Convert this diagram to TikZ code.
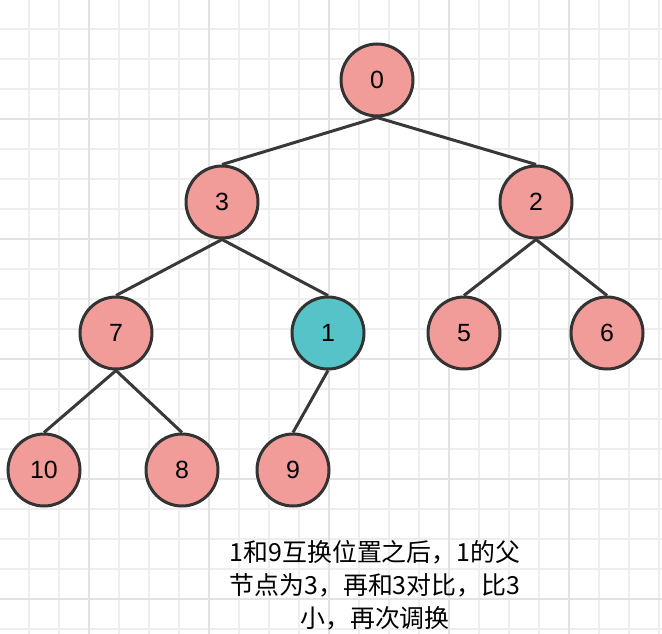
\documentclass[tikz,border=0pt]{standalone}
\usepackage{fontspec}
\setmainfont{Liberation Sans}
\newfontfamily\cjk{Noto Sans CJK SC}
\definecolor{heapred}{HTML}{F19C99}
\definecolor{heapteal}{HTML}{56C3C8}
\definecolor{gridgray}{HTML}{EEEEEE}
\definecolor{gridmajor}{HTML}{E2E2E2}
\tikzset{
	heap/.style={circle, draw=black!80, line width=3bp, fill=heapred, minimum size=72bp, inner sep=0pt, font=\fontsize{25}{28}\selectfont},
	swapped/.style={heap, fill=heapteal},
	edge/.style={draw=black!78, line width=3bp},
}
\begin{document}
\begin{tikzpicture}[x=1bp, y=-1bp]
	\useasboundingbox (0,0) rectangle (662,634);
	\fill[white] (0,0) rectangle (662,634);
	% grid
	\foreach \g in {29,59,...,659} \draw[gridgray, line width=1.2bp] (\g,0) -- (\g,634);
	\foreach \g in {29,59,...,629} \draw[gridgray, line width=1.2bp] (0,\g) -- (662,\g);
	\foreach \g in {89,209,...,569} \draw[gridmajor, line width=1.2bp] (\g,0) -- (\g,634);
	\foreach \g in {119,239,...,599} \draw[gridmajor, line width=1.2bp] (0,\g) -- (662,\g);
	% nodes
	\node[heap] (n0) at (377,80) {0};
	\node[heap] (n3) at (222,202) {3};
	\node[heap] (n2) at (536,202) {2};
	\node[heap] (n7) at (116,333) {7};
	\node[swapped] (n1) at (328,333) {1};
	\node[heap] (n5) at (464,333) {5};
	\node[heap] (n6) at (607,333) {6};
	\node[heap] (n10) at (44,470) {10};
	\node[heap] (n8) at (182,470) {8};
	\node[heap] (n9) at (293,470) {9};
	% edges
	\path[edge] (n0.south) -- (n3.north);
	\path[edge] (n0.south) -- (n2.north);
	\path[edge] (n3.south) -- (n7.north);
	\path[edge] (n3.south) -- (n1.north);
	\path[edge] (n2.south) -- (n5.north);
	\path[edge] (n2.south) -- (n6.north);
	\path[edge] (n7.south) -- (n10.north);
	\path[edge] (n7.south) -- (n8.north);
	\path[edge] (n1.south) -- (n9.north);
	\node[align=center, font=\cjk\fontsize{25}{33}\selectfont] (note) at (375,585) {1和9互换位置之后，1的父\\节点为3，再和3对比，比3\\小，再次调换};
\end{tikzpicture}
\end{document}
